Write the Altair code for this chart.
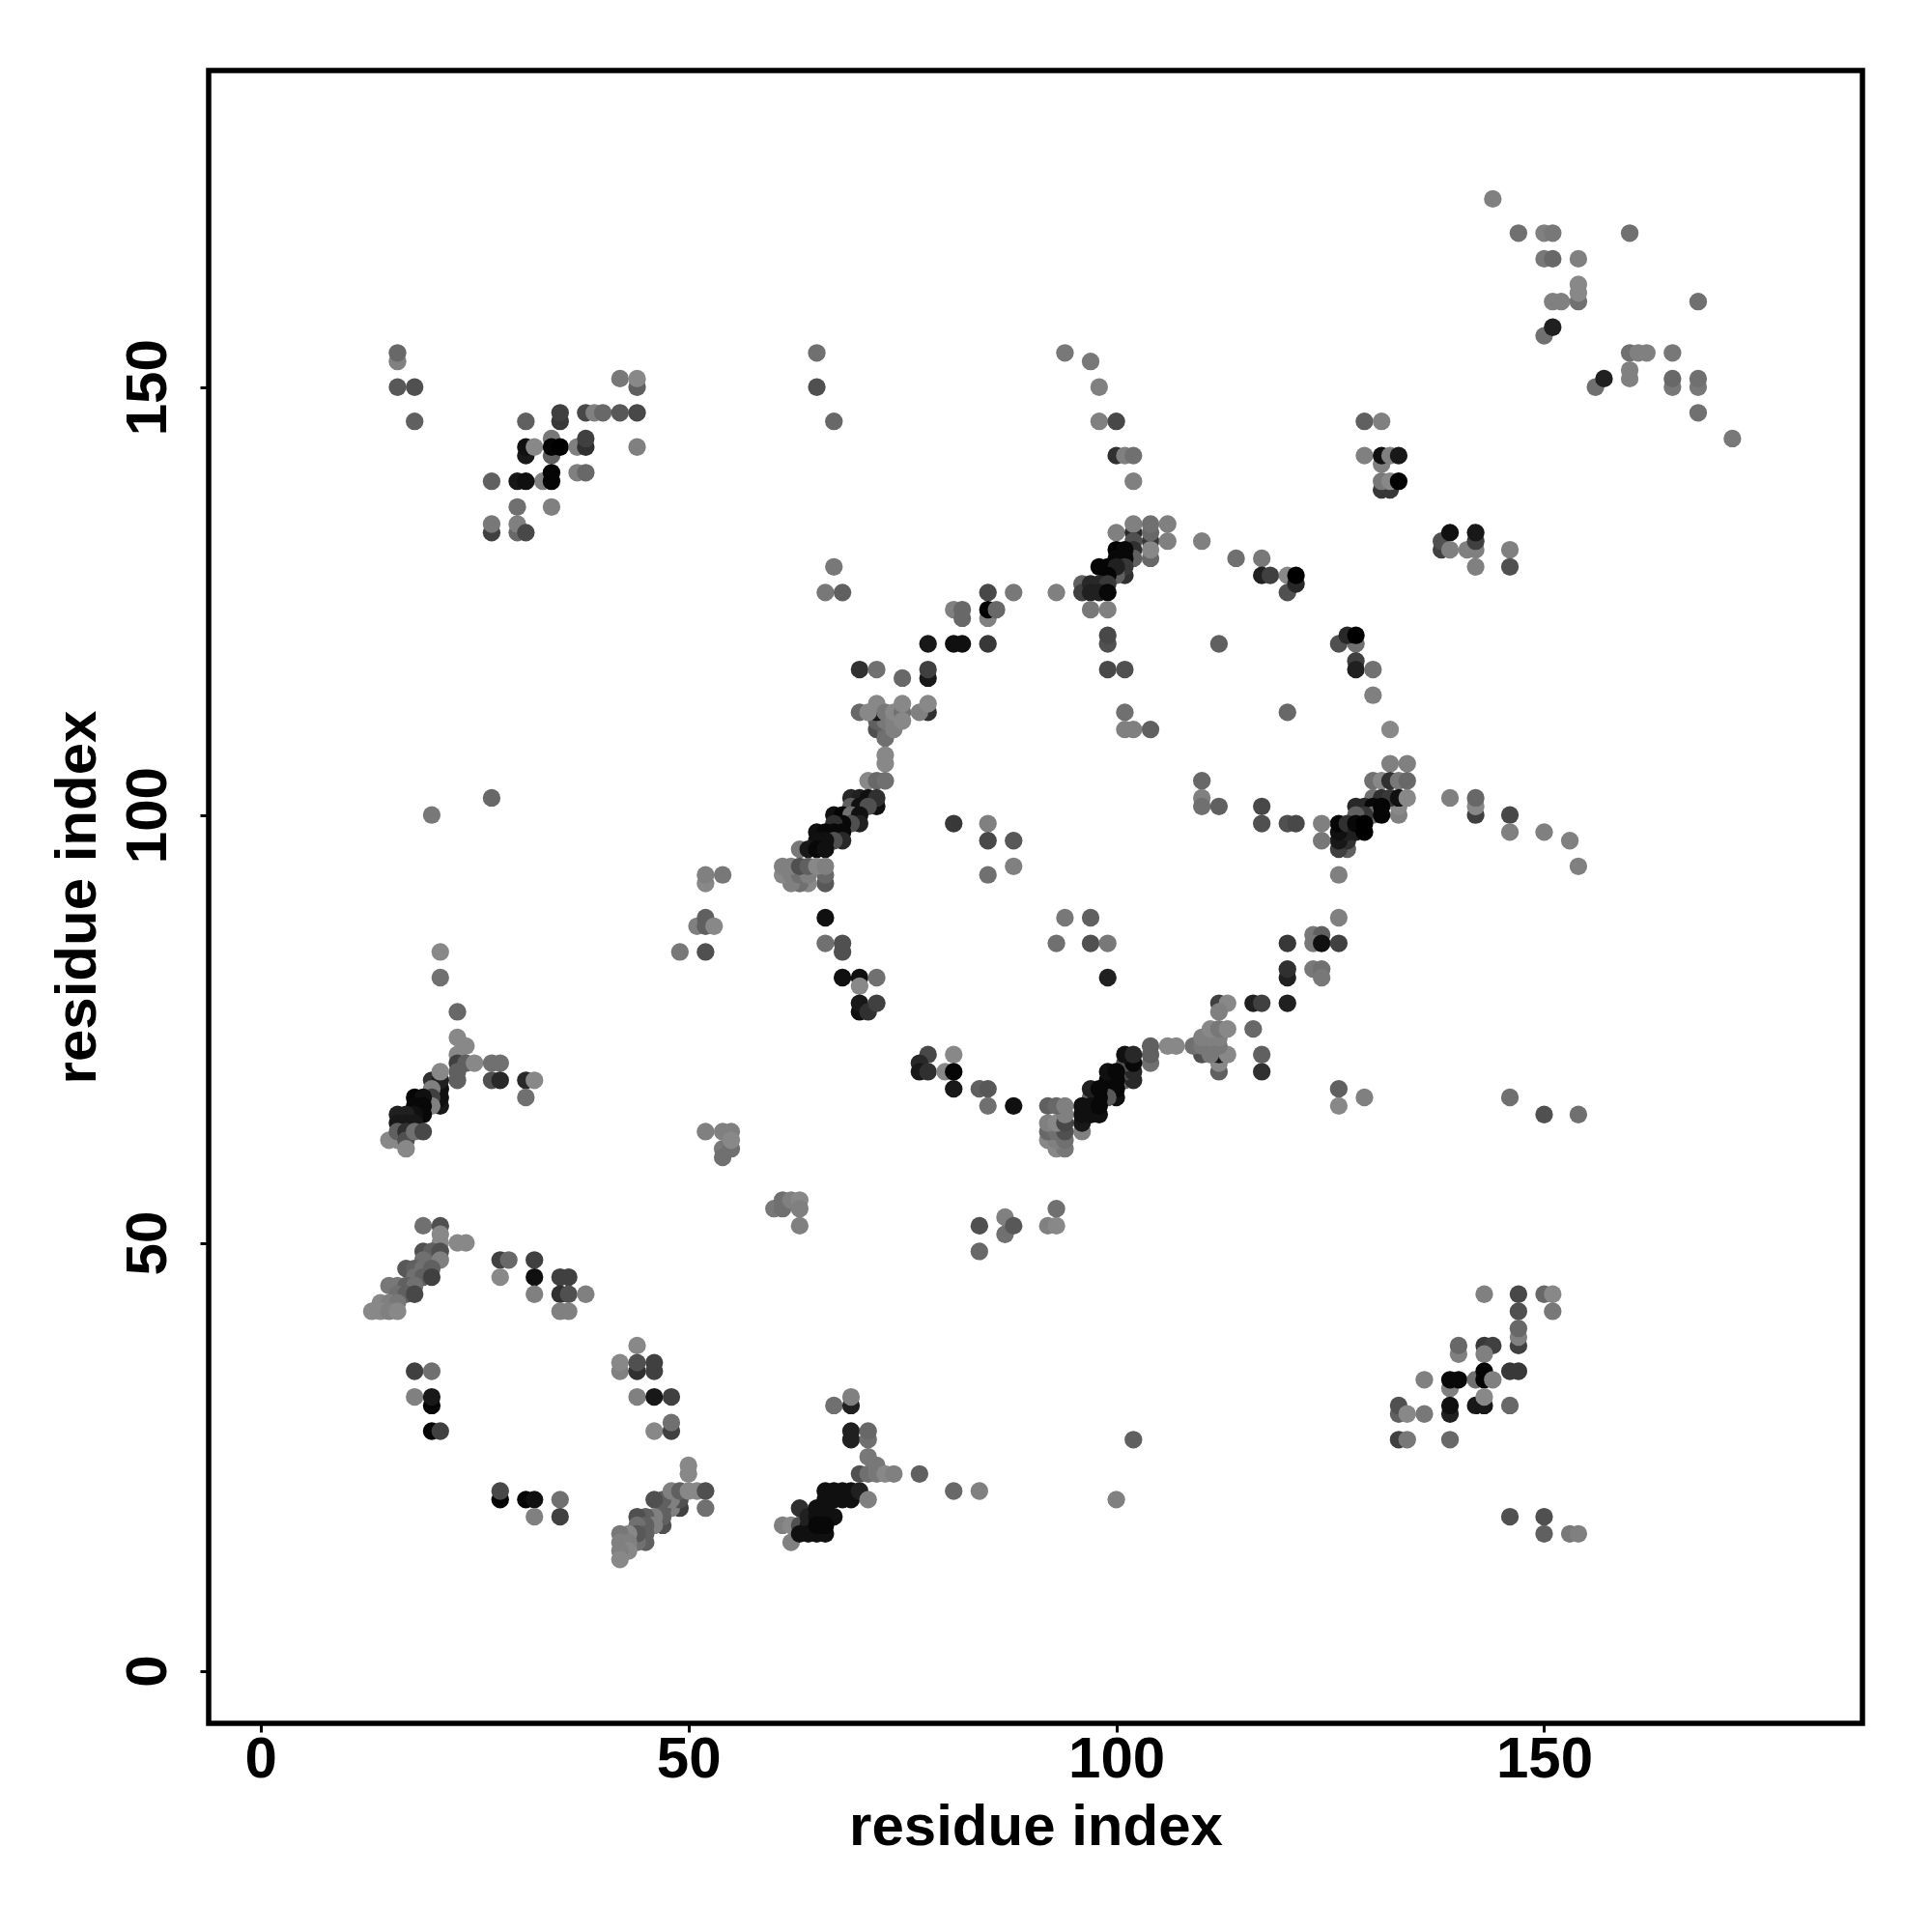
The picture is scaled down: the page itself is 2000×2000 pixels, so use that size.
import altair as alt
import pandas as pd

# (residue i, residue j, grey level 0-255)
low_left = [(19,52,0x70),(21,52,0x50),(21,51,0x88),(21,50,0x88),(23,50,0x88),(24,50,0x88),(19,49,0x50),(20,49,0x60),(21,49,0x50),(19,48,0x70),(21,48,0x80),(17,47,0x58),(18,47,0x60),(19,47,0x70),(20,47,0x60),(18,46,0x70),(19,46,0x60),(20,46,0x40),(15,45,0x78),(16,45,0x78),(17,45,0x60),(18,45,0x70),(16,44,0x70),(17,44,0x60),(18,44,0x48),(14,43,0x88),(15,43,0x80),(16,43,0x78),(13,42,0x88),(14,42,0x88),(15,42,0x80),(16,42,0x88),
(28,48,0x40),(29,48,0x68),(28,46,0x88),(32,48,0x40),(32,46,0x10),(32,44,0x80),(35,46,0x40),(36,46,0x40),(35,44,0x30),(36,44,0x50),(38,44,0x80),(35,42,0x80),(36,42,0x80),
(18,35,0x40),(20,35,0x70),(18,32,0x80),(20,31,0x05),(20,32,0x18),(20,28,0x05),(21,28,0x40),
(44,38,0x88),(42,35,0x80),(42,36,0x88),(44,35,0x30),(44,36,0x50),(46,35,0x40),(46,36,0x40),(44,32,0x80),(46,32,0x18),(48,32,0x40),(46,28,0x88),(48,28,0x40),(48,29,0x70),
(28,20,0x05),(28,21,0x48),(31,20,0x05),(32,20,0x10),(35,20,0x70),(32,18,0x80),(35,18,0x40)]
diag_44 = [(50,24,0x88),(50,23,0x88),(49,19,0x40),(48,19,0x80),(47,19,0x60),(49,20,0x50),(48,20,0x80),(47,20,0x60),(46,20,0x50),(48,21,0x80),(49,21,0x60),(50,21,0x88),(51,21,0x88),(52,21,0x50),(52,19,0x70),
(47,17,0x50),(47,18,0x60),(46,18,0x80),(45,18,0x60),(44,18,0x50),(46,17,0x80),(45,17,0x60),(44,17,0x70),(45,15,0x60),(45,16,0x60),(44,15,0x70),(44,16,0x58),(43,16,0x88),(42,16,0x78),(43,15,0x80),(42,15,0x80),(43,14,0x88),(42,14,0x80),(42,13,0x88)]
diag_64 = [(61,17,0x80),(62,17,0x88),(62,15,0x80),(63,17,0x50),(63,19,0x30),(64,18,0x20),(65,19,0x10),(66,19,0x10),(64,17,0x20),(65,18,0x10),(66,18,0x10),(67,18,0x10),(63,16,0x10),(64,16,0x10),(65,16,0x10),(66,16,0x10),(65,17,0x08),(66,17,0x08),(67,20,0x10),(68,20,0x10),(69,20,0x10),(66,20,0x10),(66,21,0x10),(67,21,0x10),(68,21,0x10),(69,21,0x10),(70,21,0x20),(71,20,0x80),
(70,23,0x50),(71,23,0x70),(72,23,0x78),(71,25,0x78),(72,24,0x78),(73,23,0x88),(74,23,0x80),(77,23,0x60),(69,27,0x20),(69,28,0x20),(71,27,0x70),(71,28,0x68),(67,31,0x70),(69,31,0x20),(69,32,0x80),(81,21,0x68),(84,21,0x80),(102,27,0x60),(100,20,0x80)]
mid_left = [(21,84,0x88),(21,81,0x70),(23,77,0x68),(23,74,0x88),(24,73,0x88),(23,72,0x88),(23,71,0x40),(24,71,0x60),(25,71,0x88),(23,69,0x60),(23,70,0x60),(27,71,0x70),(28,71,0x70),(27,69,0x50),(28,69,0x28),(31,69,0x28),(32,69,0x88),(31,67,0x70),
(21,66,0x18),(21,67,0x10),(21,68,0x10),(20,69,0x30),(21,69,0x20),(21,70,0x88),(20,68,0x80),(20,67,0x40),(20,66,0x80),(18,67,0x05),(19,67,0x10),(18,66,0x08),(19,66,0x08),(19,65,0x08),(18,65,0x10),(17,65,0x20),(16,65,0x20),(16,64,0x18),(17,64,0x18),(18,64,0x18),(15,62,0x88),(16,62,0x88),(16,63,0x60),(17,63,0x30),(17,62,0x50),(17,61,0x88),(18,63,0x70),(19,63,0x48),
(49,84,0x78),(52,84,0x50),(51,87,0x80),(52,88,0x60),(52,87,0x60),(53,87,0x88),(20,100,0x78),(27,102,0x68),(52,92,0x88),(52,93,0x80),(54,93,0x78)]
mid_bands = [(52,63,0x80),(54,61,0x78),(55,61,0x70),(54,60,0x70),(54,63,0x80),(55,63,0x80),(55,62,0x88),(60,54,0x78),(61,54,0x70),(61,55,0x70),(62,55,0x80),(63,55,0x88),(63,54,0x80),(63,52,0x80),
(84,52,0x50),(84,49,0x68),(87,51,0x70),(87,53,0x80),(88,52,0x58),(92,52,0x80),(93,52,0x88),(93,54,0x70),(146,67,0x70),(150,65,0x50),(154,65,0x70),(146,18,0x50),(150,18,0x50),(150,16,0x60),(153,16,0x78),(154,16,0x80)]
top_left = [(16,153,0x80),(16,154,0x68),(16,150,0x58),(18,150,0x50),(18,146,0x60),(42,151,0x78),(44,150,0x60),(44,151,0x88),(35,146,0x38),(35,147,0x40),(38,147,0x48),(39,147,0x80),(40,147,0x68),(42,147,0x58),(44,147,0x48),(31,146,0x60),
(34,142,0x60),(34,144,0x78),(31,142,0x18),(31,143,0x10),(32,143,0x88),(34,143,0x05),(35,143,0x00),(37,143,0x80),(38,143,0x30),(38,144,0x40),(44,143,0x80),
(33,139,0x80),(34,139,0x05),(34,140,0x05),(37,140,0x80),(38,140,0x68),(30,139,0x18),(31,139,0x10),(27,139,0x60),(30,136,0x70),(34,136,0x80),(27,133,0x40),(27,134,0x78),(30,133,0x68),(30,134,0x80),(31,133,0x48),
(65,154,0x70),(65,150,0x50),(67,146,0x68),(67,129,0x78),(66,126,0x78),(68,126,0x60)]
helix_70 = [(78,120,0x18),(81,120,0x10),(82,120,0x10),(85,120,0x38),(70,117,0x30),(72,117,0x70),(75,116,0x68),(78,116,0x18),(78,117,0x40),
(72,110,0x50),(73,110,0x60),(73,109,0x70),(72,111,0x60),(73,111,0x78),(72,112,0x18),(74,110,0x80),(70,112,0x68),(71,112,0x88),(72,113,0x88),(73,112,0x78),(74,111,0x80),(74,112,0x88),(75,112,0x70),(75,111,0x88),(75,113,0x88),(78,112,0x30),(77,112,0x80),(78,113,0x88),
(73,106,0x88),(73,107,0x88),(71,104,0x88),(72,104,0x68),(73,104,0x70),
(72,101,0x10),(69,102,0x28),(70,102,0x20),(71,102,0x10),(72,102,0x30),(69,101,0x60),(70,101,0x10),(71,101,0x50),(67,100,0x10),(68,100,0x05),(69,100,0x70),(70,100,0x10),(70,99,0x20),(69,99,0x50),(68,99,0x08),(67,99,0x30),(65,98,0x10),(66,98,0x08),(67,98,0x08),(68,98,0x08),(68,97,0x28),(67,97,0x50),(66,97,0x10),(65,97,0x10),(63,96,0x78),(64,96,0x18),(65,96,0x08),(66,96,0x10),
(66,92,0x58),(66,93,0x68),(64,92,0x88),(63,92,0x70),(62,92,0x80),(61,93,0x88),(62,93,0x80),(63,93,0x70),(64,93,0x80),(61,94,0x80),(62,94,0x80),(63,94,0x50),(64,94,0x60),(65,94,0x88),(66,94,0x80),
(66,88,0x10),(66,85,0x70),(68,84,0x50),(68,85,0x50),(68,81,0x10),(70,81,0x10),(72,81,0x70),(70,80,0x88),(70,77,0x10),(70,78,0x18),(71,77,0x30),(72,78,0x40),
(81,99,0x38),(85,99,0x80),(85,97,0x48),(88,97,0x58),(85,93,0x70),(88,94,0x80),(94,88,0x78),(97,88,0x60),(93,85,0x70),(97,85,0x50),(99,85,0x78),(99,81,0x20)]
helix_100 = [(102,139,0x80),(100,133,0x80),(102,133,0x28),(102,134,0x80),(104,132,0x38),(104,130,0x68),(104,131,0x88),(104,133,0x68),(104,134,0x70),(106,134,0x80),(106,132,0x80),(110,132,0x80),(102,132,0x50),(102,131,0x30),(102,130,0x60),(100,131,0x00),(101,131,0x08),(101,130,0x08),(100,130,0x08),(98,129,0x05),(99,129,0x05),(101,128,0x30),(101,129,0x38),(100,128,0x60),(100,129,0x20),(99,128,0x05),
(96,127,0x60),(96,126,0x40),(97,127,0x28),(98,127,0x28),(99,127,0x38),(97,126,0x20),(98,126,0x20),(99,126,0x08),
(114,130,0x70),(117,130,0x78),(117,128,0x20),(118,128,0x40),(120,128,0x88),(120,126,0x50),(121,127,0x28),(121,128,0x00),
(85,126,0x48),(88,126,0x78),(93,126,0x80),(97,124,0x78),(99,124,0x80),(85,123,0x80),(85,124,0x00),(86,124,0x68),(81,124,0x80),(82,124,0x68),(82,123,0x68),
(99,120,0x50),(99,121,0x48),(99,117,0x48),(101,117,0x50),(112,120,0x60),(101,112,0x70),(101,110,0x80),(102,110,0x80),(104,110,0x60),(120,112,0x68),
(94,154,0x78),(97,153,0x78),(98,150,0x80),(98,146,0x80),(100,146,0x48),(100,142,0x30),(101,142,0x80),(102,142,0x70)]
helix_128 = [(126,120,0x50),(128,120,0x70),(127,121,0x28),(128,121,0x00),(128,118,0x40),(128,117,0x20),(130,117,0x70),(130,114,0x80),(132,110,0x88),(132,106,0x80),(134,106,0x80),
(130,104,0x70),(131,104,0x88),(132,104,0x30),(133,104,0x78),(134,104,0x68),(133,100,0x80),(133,101,0x88),(130,102,0x70),(131,102,0x30),(132,102,0x38),(133,102,0x10),(134,102,0x88),
(128,101,0x28),(129,101,0x28),(130,101,0x08),(130,100,0x70),(129,100,0x38),(128,100,0x60),(131,101,0x05),(131,100,0x05),
(127,96,0x60),(126,96,0x40),(127,97,0x30),(126,97,0x18),(127,98,0x20),(126,98,0x10),(126,99,0x05),(127,99,0x30),(128,98,0x20),(128,99,0x08),(129,98,0x00),(129,99,0x00),(124,99,0x80),(124,97,0x78),(126,93,0x80),
(117,101,0x48),(117,99,0x50),(120,99,0x50),(121,99,0x48),(110,104,0x68),(110,102,0x80),(110,101,0x70),(112,101,0x60),
(139,102,0x80),(142,100,0x40),(142,101,0x88),(142,102,0x68),(146,100,0x48),(146,98,0x80),(150,98,0x80),(153,97,0x80),(154,94,0x80)]
helix_96 = [(112,78,0x40),(113,78,0x88),(112,77,0x80),(116,78,0x20),(117,78,0x40),(120,78,0x20),(116,75,0x68),(117,72,0x60),(117,70,0x30),
(112,70,0x60),(112,71,0x88),(112,72,0x18),(110,72,0x50),(111,72,0x78),(113,72,0x88),(109,73,0x70),(110,73,0x78),(111,73,0x78),(112,73,0x78),(110,74,0x80),(111,74,0x80),(112,74,0x80),(111,75,0x88),(112,75,0x78),(113,75,0x88),
(104,71,0x70),(104,72,0x60),(104,73,0x60),(106,73,0x88),(107,73,0x88),
(101,69,0x68),(102,69,0x28),(101,70,0x50),(102,70,0x28),(101,71,0x50),(102,71,0x08),(101,72,0x10),(102,72,0x28),
(99,68,0x60),(100,67,0x10),(100,68,0x08),(99,69,0x08),(100,69,0x08),(99,70,0x10),(100,70,0x08),(99,67,0x58),(97,67,0x60),(98,67,0x08),(97,68,0x20),(98,68,0x08),
(96,63,0x80),(96,64,0x18),(96,65,0x10),(96,66,0x10),(97,65,0x10),(98,65,0x10),(97,66,0x10),(98,66,0x08),
(92,62,0x88),(93,61,0x88),(94,61,0x78),(93,62,0x80),(94,62,0x70),(92,63,0x68),(93,63,0x70),(94,63,0x50),(92,64,0x80),(93,64,0x88),(94,64,0x48),(94,65,0x80),(92,66,0x60),(93,66,0x68),(94,66,0x80),
(78,72,0x48),(77,71,0x28),(77,70,0x18),(78,70,0x30),(80,70,0x88),(81,72,0x88),(81,70,0x05),(81,68,0x18),(84,68,0x60),(85,68,0x58),(85,66,0x70),(88,66,0x10),
(126,88,0x80),(123,86,0x78),(124,86,0x60),(123,85,0x78),(124,85,0x10),(126,85,0x40),(120,85,0x38),(120,81,0x20),(120,82,0x30),(123,82,0x78),(124,82,0x70),(124,81,0x78),
(126,68,0x60),(126,66,0x88),(129,67,0x80)]
right_top = [(129,146,0x60),(131,146,0x80),(129,142,0x80),(131,141,0x80),(131,142,0x10),(132,142,0x80),(133,142,0x18),(131,138,0x38),(132,138,0x38),(131,139,0x78),(132,139,0x88),(133,139,0x00),
(138,131,0x40),(138,132,0x50),(139,133,0x10),(139,131,0x80),(141,131,0x80),(142,131,0x80),(142,132,0x40),(142,133,0x18),(142,129,0x80),(146,131,0x80),(146,129,0x50),
(144,172,0x80),(147,168,0x70),(150,168,0x80),(151,168,0x78),(160,168,0x70),(150,165,0x78),(151,165,0x68),(154,165,0x80),(154,160,0x70),(154,161,0x88),(154,162,0x88),(151,160,0x80),(152,160,0x80),(168,160,0x70),(150,156,0x70),(151,157,0x20),
(160,154,0x70),(161,154,0x80),(162,154,0x80),(165,154,0x78),(160,151,0x80),(160,152,0x80),(156,150,0x70),(157,151,0x20),(165,150,0x78),(165,151,0x68),(168,150,0x78),(168,151,0x70),(168,147,0x70),(172,144,0x78)]
right_low = [(143,44,0x80),(147,44,0x48),(150,44,0x68),(151,44,0x88),(151,42,0x78),(147,42,0x50),(147,38,0x40),(147,39,0x80),(147,40,0x68),(140,37,0x80),(140,38,0x68),(143,38,0x38),(144,38,0x40),(143,37,0x80),
(146,35,0x38),(147,35,0x38),(139,33,0x80),(139,34,0x08),(140,34,0x08),(142,34,0x70),(143,35,0x05),(143,34,0x05),(144,34,0x80),(136,34,0x80),(142,31,0x18),(143,31,0x18),(143,32,0x88),(139,30,0x20),(139,31,0x10),(146,31,0x68),
(133,30,0x60),(133,31,0x50),(134,30,0x88),(136,30,0x78),(133,27,0x40),(134,27,0x78),(139,27,0x68)]

clusters = [low_left, diag_44, diag_64, mid_left, mid_bands, top_left, helix_70, helix_100, helix_128, helix_96, right_top, right_low]
tick_values = [0, 50, 100, 150]
axis_title = "residue index"
x_domain = [-6.07, 187.2]
y_domain = [-6.15, 187.0]

rows = [{"i": a, "j": b, "shade": "#%02x%02x%02x" % (g, g, g)} for c in clusters for a, b, g in c]
df = pd.DataFrame(rows)

font = "Liberation Sans"
common = dict(values=tick_values, grid=False, domain=False, ticks=True, tickColor="black", tickWidth=3, tickSize=9,
              labelFont=font, labelFontWeight="bold", labelFontSize=60, labelColor="black", labelBaseline="alphabetic",
              titleFont=font, titleFontWeight="bold", titleFontSize=60, titleColor="black", titleBaseline="alphabetic", titleAlign="center",
              labelOverlap=False, labelFlush=False, format="d")

W, H = 1712, 1711
chart = (
    alt.Chart(df)
    .mark_circle(opacity=1, size=335)
    .encode(
        x=alt.X("i:Q", scale=alt.Scale(domain=x_domain, nice=False, zero=False),
                axis=alt.Axis(title=axis_title, labelPadding=46, titleX=W / 2, titleY=125, **common)),
        y=alt.Y("j:Q", scale=alt.Scale(domain=y_domain, nice=False, zero=False),
                axis=alt.Axis(title=axis_title, labelPadding=36, labelAngle=270, labelAlign="center", titleAngle=270, titleX=-118, titleY=H / 2, **common)),
        color=alt.Color("shade:N", scale=None, legend=None),
    )
    .properties(width=W, height=H, autosize=alt.AutoSizeParams(type="none"),
                padding={"left": 208, "top": 65, "right": 60, "bottom": 200}, background="white")
    .configure_view(stroke="black", strokeWidth=5.5, fill="white")
)
chart.save("out.html", embed_options={"renderer": "svg", "actions": False})
